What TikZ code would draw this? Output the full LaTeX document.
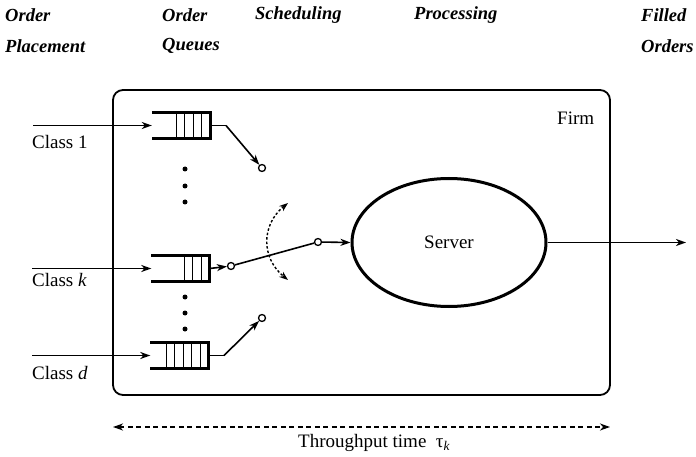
\documentclass[tikz,border=0pt]{standalone}
\usepackage{fontspec}
\setmainfont{Liberation Serif}
\usetikzlibrary{arrows.meta,shapes.geometric}
\tikzset{
  lbl/.style={font=\fontsize{19}{22}\selectfont, inner sep=0pt},
  hdr/.style={font=\fontsize{18.5}{22}\selectfont\bfseries\itshape, inner sep=0pt, anchor=west},
  queue/.style={minimum width=58pt, minimum height=25pt, inner sep=0pt},
  qline/.style={line width=3pt},
  cell/.style={line width=1.4pt},
  tip/.style={Stealth[length=10pt,width=7pt,inset=3pt]},
  conn/.style={line width=1.6pt, -{Stealth[length=10pt,width=7pt,inset=3pt]}},
  plain/.style={line width=1.6pt},
  sw/.style={circle, draw, fill=white, line width=1.3pt, inner sep=0pt, minimum size=7pt},
  dotn/.style={circle, fill=black, inner sep=0pt, minimum size=5pt},
}
\begin{document}
\begin{tikzpicture}[x=1pt,y=-1pt]
\useasboundingbox (0,0) rectangle (696,457);
% headers
\node[hdr] (h1a) at (5,15) {Order};
\node[hdr] (h1b) at (5,46) {Placement};
\node[hdr] (h2a) at (162,15) {Order};
\node[hdr] (h2b) at (162,46) {Queues};
\node[hdr] (h3) at (255,15) {Scheduling};
\node[hdr] (h4) at (414,15) {Processing};
\node[hdr] (h5a) at (641,15) {Filled};
\node[hdr] (h5b) at (641,46) {Orders};
% firm box
\node[draw, line width=1.8pt, rounded corners=10pt, minimum width=497pt, minimum height=305pt, inner sep=0pt] (firm) at (361.5,242.5) {};
\node[lbl, anchor=west] (firmlbl) at (557,118) {Firm};
% queues
\node[queue] (q1) at (181,125.5) {};
\node[queue] (qk) at (180.5,268.5) {};
\node[queue] (qd) at (179.5,355.5) {};
\foreach \q/\n in {q1/4,qk/3,qd/5}{
  \draw[qline] (\q.north west) -- (\q.north east) -- (\q.south east) -- (\q.south west);
  \foreach \i in {1,...,\n}{
    \draw[cell] ([xshift=-\i*8.5pt]\q.north east) -- ([xshift=-\i*8.5pt]\q.south east);
  }
}
% dots
\node[dotn] (d1) at (185,169) {};
\node[dotn] (d2) at (185,186) {};
\node[dotn] (d3) at (185,202) {};
\node[dotn] (d4) at (185,297) {};
\node[dotn] (d5) at (185,313) {};
\node[dotn] (d6) at (185,329) {};
% class inputs
\coordinate (in1) at (33,125.5);
\coordinate (ink) at (32,268.5);
\coordinate (ind) at (32,355.5);
\draw[conn] (in1) -- (q1.west);
\draw[conn] (ink) -- (qk.west);
\draw[conn] (ind) -- (qd.west);
\node[lbl, anchor=west] (c1l) at (32,142) {Class 1};
\node[lbl, anchor=west] (ckl) at (32,280) {Class \textit{k}};
\node[lbl, anchor=west] (cdl) at (32,373) {Class \textit{d}};
% switch contacts
\node[sw] (s1) at (262,168) {};
\node[sw] (sk) at (231,266) {};
\node[sw] (ss) at (318,242) {};
\node[sw] (sd) at (262,318) {};
% server
\node[ellipse, draw, line width=3pt, minimum width=194pt, minimum height=128pt, inner sep=0pt, font=\fontsize{19}{22}\selectfont] (srv) at (449,242.5) {Server};
% queue outputs
\coordinate (b1) at (226,125.5);
\coordinate (bd) at (224,355.5);
\draw[plain] (q1.east) -- (b1);
\draw[conn] (b1) -- (s1);
\draw[conn] (qk.east) -- (sk);
\draw[plain] (qd.east) -- (bd);
\draw[conn] (bd) -- (sd);
\draw[plain] (sk) -- (ss);
\draw[conn] (ss) -- (srv.west);
% output
\coordinate (outp) at (686,242.5);
\draw[conn] (srv.east) -- (outp);
% scheduling arc
\coordinate (at) at (288,203);
\coordinate (ab) at (288,280);
\draw[line width=1.4pt, dash pattern=on 2.5pt off 2pt, {Stealth[length=9pt,width=6.5pt,inset=3pt]}-{Stealth[length=9pt,width=6.5pt,inset=3pt]}] (at) .. controls (261,225) and (261,258) .. (ab);
% throughput
\coordinate (tl) at (113,427);
\coordinate (tr) at (610,427);
\draw[line width=1.4pt, dash pattern=on 5pt off 3.5pt, {Stealth[length=10pt,width=7pt,inset=3pt]}-{Stealth[length=10pt,width=7pt,inset=3pt]}] (tl) -- (tr);
\node[lbl, anchor=west] (tput) at (298,443) {Throughput time\ \ τ\textsubscript{\textit{k}}};
\end{tikzpicture}
\end{document}
